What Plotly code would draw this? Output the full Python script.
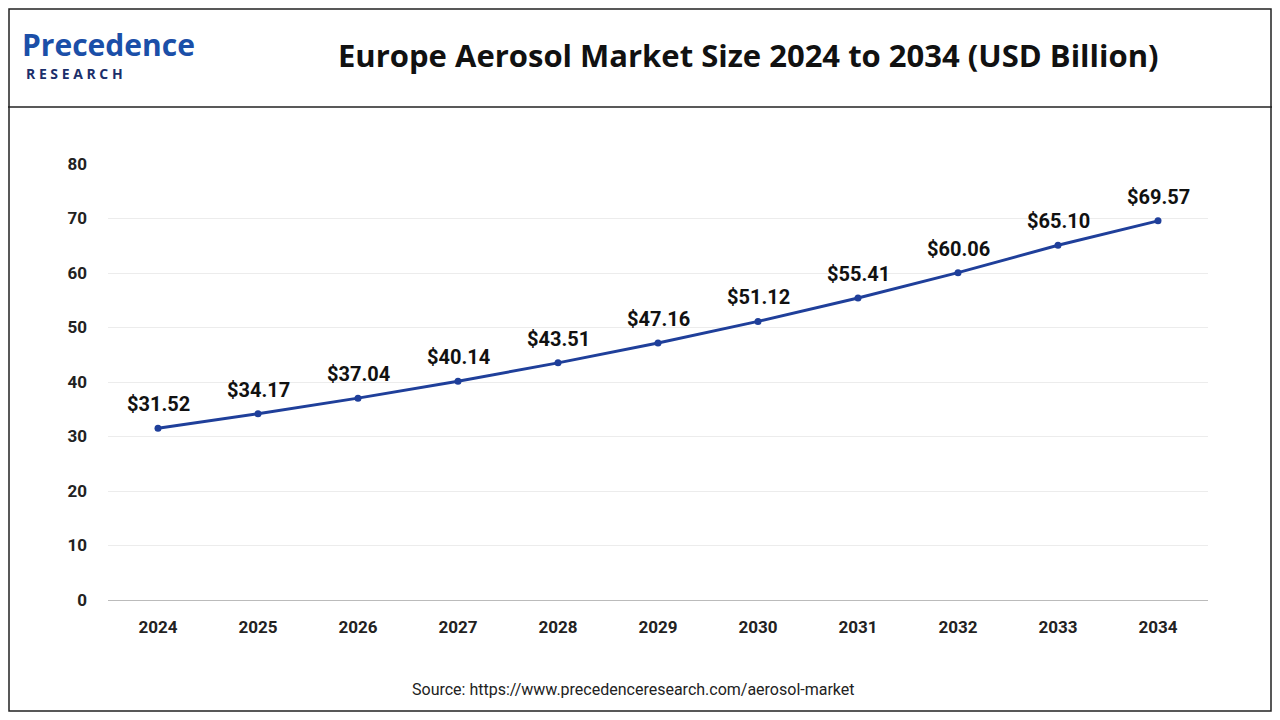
import plotly.graph_objects as go

years = ["2024","2025","2026","2027","2028","2029","2030","2031","2032","2033","2034"]
values = [31.52,34.17,37.04,40.14,43.51,47.16,51.12,55.41,60.06,65.10,69.57]
labels = ["$%.2f" % v for v in values]

fig = go.Figure()
fig.add_trace(go.Scatter(x=list(range(len(years))), y=values, mode="lines+markers",
    line=dict(color="#1f3f9a", width=3), marker=dict(size=7, color="#1f3f9a"), cliponaxis=False))

for i, (v, t) in enumerate(zip(values, labels)):
    fig.add_annotation(x=i, y=v, text="<b>%s</b>" % t, showarrow=False, yshift=24,
                       font=dict(family="Roboto", size=20, color="#111111"))

W, H = 1264, 704
fig.update_layout(
    width=W, height=H, margin=dict(l=100, r=64, t=156, b=112),
    paper_bgcolor="white", plot_bgcolor="white", showlegend=False,
    xaxis=dict(range=[-0.5,10.5], tickmode="array", tickvals=list(range(len(years))),
               ticktext=["<b>%s</b>" % y for y in years],
               showgrid=False, showline=True, linecolor="#bbbbbb", ticks="", ticklabelstandoff=12,
               tickfont=dict(family="Roboto", size=17, color="#222"), zeroline=False),
    yaxis=dict(range=[0,80], dtick=10, showgrid=True, gridcolor="#ececec", zeroline=False,
               tickvals=[0,10,20,30,40,50,60,70,80],
               ticktext=["<b>%d</b>" % v for v in range(0,90,10)],
               tickfont=dict(family="Roboto", size=17, color="#222"), ticks="", ticklabelstandoff=20),
    shapes=[
        dict(type="rect", xref="paper", yref="paper", x0=-99/1100, x1=(W-101)/1100, y0=-111/436, y1=591/436,
             line=dict(color="#222", width=1.5)),
        dict(type="line", xref="paper", yref="paper", x0=-100/1100, x1=(W-100)/1100, y0=(600-107)/436, y1=(600-107)/436,
             line=dict(color="#222", width=1.5)),
    ],
)
fig.add_annotation(text="<b>Europe Aerosol Market Size 2024 to 2034 (USD Billion)</b>", xref="paper", yref="paper",
             x=(748-108)/1100, y=(600-55)/436, showarrow=False, font=dict(family="Open Sans", size=31, color="#111"),
             xanchor="center", yanchor="middle")
fig.add_annotation(text="<b>Precedence</b>", xref="paper", yref="paper", x=(20-108)/1100, y=(600-44)/436,
             xanchor="left", yanchor="middle", showarrow=False,
             font=dict(family="Open Sans", size=30, color="#1b4fa8"))
fig.add_annotation(text="<b>R E S E A R C H</b>", xref="paper", yref="paper", x=(24-108)/1100, y=(600-73)/436,
             xanchor="left", yanchor="middle", showarrow=False,
             font=dict(family="Open Sans", size=14, color="#1b2f6b"))
fig.add_annotation(text="Source: https://www.precedenceresearch.com/aerosol-market", xref="paper", yref="paper",
             x=(633-108)/1100, y=(600-689)/436, xanchor="center", yanchor="middle", showarrow=False,
             font=dict(family="Roboto", size=16, color="#222"))
fig.write_html("out.html")
